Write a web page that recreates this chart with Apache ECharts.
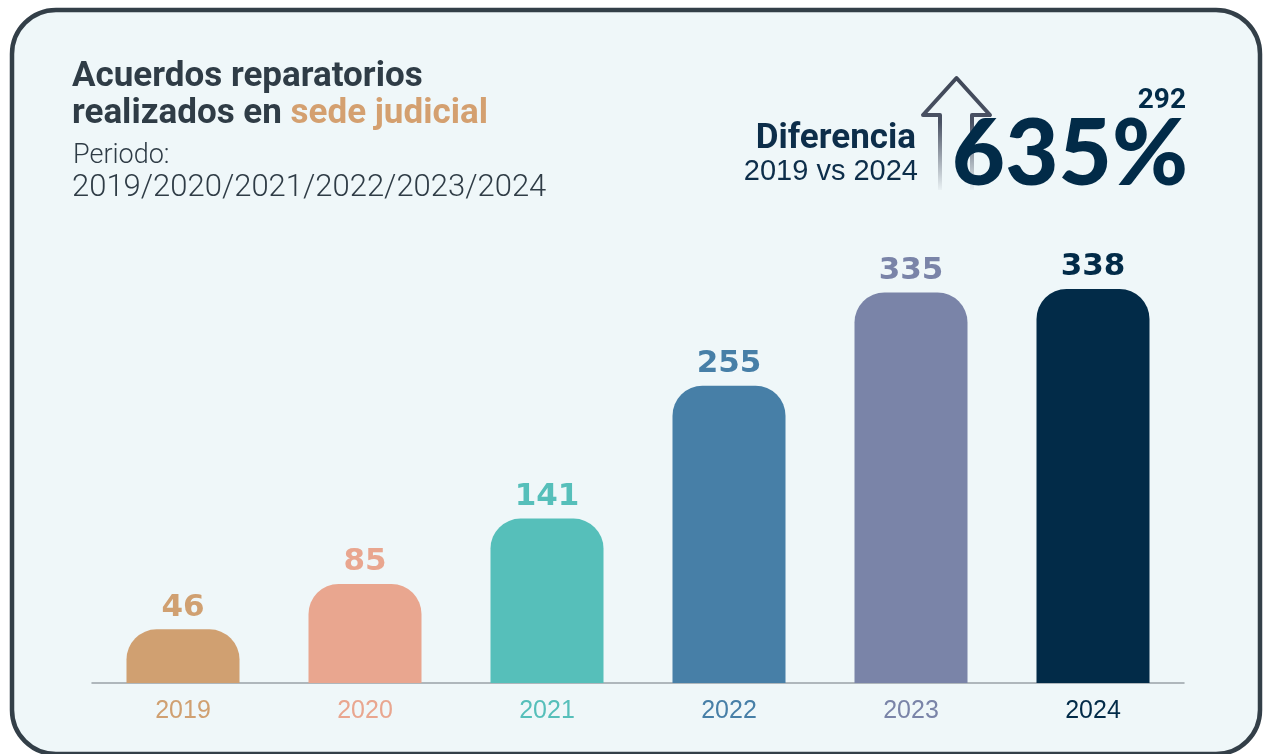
<!DOCTYPE html>
<html><head><meta charset="utf-8">
<script src="https://cdn.jsdelivr.net/npm/echarts@6/dist/echarts.min.js"></script>
<style>html,body{margin:0;padding:0;background:#fff}#c{width:1263px;height:754px}</style>
</head><body><div id="c"></div>
<script>
const categories = ['2019','2020','2021','2022','2023','2024'];
const values = [46, 85, 141, 255, 335, 338];
const colors = ['#d0a071','#e9a68f','#56bfba','#477fa7','#7a84a8','#022b48'];
const yTicks = [0, 400];

const chart = echarts.init(document.getElementById('c'));
chart.setOption({
  animation: false,
  backgroundColor: '#ffffff',
  grid: { left: 92, right: 79, top: 216.6, bottom: 71 },
  xAxis: {
    type: 'category', data: categories,
    axisLine: { show: true, lineStyle: { color: '#9aa3a8', width: 1.5 } },
    axisTick: { show: false },
    axisLabel: {
      margin: 16, fontSize: 25, fontFamily: 'Liberation Sans, Arial, sans-serif',
      color: (v, i) => colors[i]
    }
  },
  yAxis: { type: 'value', min: yTicks[0], max: yTicks[1], show: false, splitLine: { show: false } },
  series: [{
    type: 'bar',
    barWidth: 113,
    data: values.map((v, i) => ({ value: v, itemStyle: { color: colors[i] }, label: { color: colors[i] } })),
    itemStyle: { borderRadius: [30, 30, 0, 0] },
    label: {
      show: true, position: 'top', distance: 6,
      fontSize: 31, fontWeight: 'bold', fontFamily: 'DejaVu Sans, sans-serif'
    }
  }],
  graphic: [
    { type: 'rect', z: -10, shape: { x: 12, y: 10, width: 1248, height: 744, r: 44 },
      style: { fill: '#eff7f9', stroke: '#333f48', lineWidth: 4.5 } },
    { type: 'text', left: 72, top: 60, style: {
        rich: {
          a: { fontSize: 35, fontWeight: 'bold', fill: '#2f3c46', fontFamily: 'Roboto, sans-serif', lineHeight: 37 },
          b: { fontSize: 35, fontWeight: 'bold', fill: '#d4a070', fontFamily: 'Roboto, sans-serif', lineHeight: 37 }
        },
        text: '{a|Acuerdos reparatorios}\n{a|realizados en }{b|sede judicial}' } },
    { type: 'text', left: 73, top: 143, style: { text: 'Periodo:', fontSize: 27, fontWeight: 300, fill: '#2f3c46', fontFamily: 'Roboto, sans-serif' } },
    { type: 'text', left: 72, top: 173, style: { text: '2019/2020/2021/2022/2023/2024', fontSize: 31, fontWeight: 300, fill: '#2f3c46', fontFamily: 'Roboto, sans-serif' } },
    { type: 'text', right: 1263-916, top: 122, style: { text: 'Diferencia', fontSize: 35, fontWeight: 'bold', fill: '#0d2e4a', fontFamily: 'Roboto, sans-serif' } },
    { type: 'text', right: 1263-918, top: 157, style: { text: '2019 vs 2024', fontSize: 29, fontWeight: 'normal', fill: '#0d2e4a', fontFamily: 'Liberation Sans, Arial, sans-serif' } },
    { type: 'polyline', shape: { points: [[940,190],[940,115],[923,115],[956.5,78],[990,115],[972,115],[972,190]] },
      style: { lineWidth: 4, lineJoin: 'round', fill: null,
        stroke: { type: 'linear', x: 0, y: 0, x2: 0, y2: 1, colorStops: [
          { offset: 0, color: '#3f4757' }, { offset: 0.4, color: '#4a5264' }, { offset: 1, color: 'rgba(74,82,100,0)' }] } } },
    { type: 'text', right: 1263-1188, top: 109, style: { text: '635%', fontSize: 92, fontWeight: 900, fill: '#022b48', fontFamily: 'Lato, sans-serif' } },
    { type: 'text', right: 1263-1186, top: 87, style: { text: '292', fontSize: 28, fontWeight: 'bold', fill: '#022b48', fontFamily: 'Roboto, sans-serif' } }
  ]
});
</script></body></html>
